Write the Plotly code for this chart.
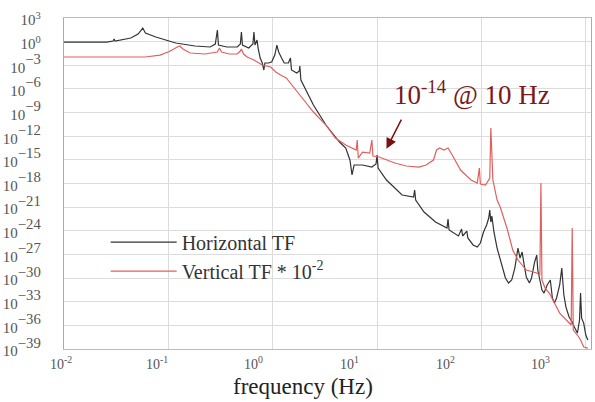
import numpy as np
import plotly.graph_objects as go

# ---- data (log10 of frequency in Hz, log10 of transfer function) ----
h_log_f = [-2.00, -1.59, -1.53, -1.52, -1.51, -1.36, -1.29, -1.245, -1.22, -1.12, -0.93, -0.745,
           -0.60, -0.55, -0.53, -0.52, -0.44, -0.34, -0.31, -0.30, -0.29, -0.23, -0.19, -0.18,
           -0.17, -0.15, -0.14, -0.12, -0.10, -0.085, -0.075, -0.04, -0.01, 0.02, 0.04, 0.057,
           0.085, 0.11, 0.15, 0.17, 0.18, 0.23, 0.255, 0.26, 0.27, 0.39, 0.51, 0.64, 0.70, 0.74,
           0.76, 0.78, 0.86, 0.95, 0.99, 1.00, 1.01, 1.09, 1.24, 1.35, 1.36, 1.37, 1.45, 1.56,
           1.67, 1.68, 1.69, 1.78, 1.81, 1.82, 1.86, 1.87, 1.92, 1.96, 1.99, 2.02, 2.05, 2.07,
           2.08, 2.09, 2.10, 2.12, 2.15, 2.18, 2.23, 2.26, 2.29, 2.32, 2.34, 2.35, 2.37, 2.39,
           2.41, 2.43, 2.46, 2.48, 2.51, 2.53, 2.54, 2.56, 2.58, 2.60, 2.63, 2.66, 2.68, 2.70,
           2.72, 2.75, 2.77, 2.79, 2.81, 2.84, 2.87, 2.89, 2.92, 2.94, 2.95, 2.96, 2.98, 3.00, 3.02]
h_log_tf = [-0.05, -0.05, 0.08, 0.34, 0.08, 0.46, 0.97, 1.73, 1.10, 0.59, -0.17, -0.55,
            -0.68, -0.30, 1.48, -0.43, -0.68, -0.68, -0.30, 1.22, -0.43, -0.81, -0.30, 1.22,
            -0.43, 0.21, -0.81, -2.08, -2.71, -3.60, -2.71, -2.71, -2.58, -1.70, -0.43, -1.31,
            -2.08, -2.71, -2.71, -2.08, -3.60, -3.98, -3.73, -3.09, -4.87, -8.04, -10.58, -12.74, -13.50, -15.02,
            -16.92, -15.65, -15.65, -15.91, -15.53, -14.39, -16.04, -17.56, -19.46, -19.72, -18.83, -20.10, -21.62, -22.89,
            -23.65, -22.51, -23.90, -24.66, -23.77, -24.66, -24.03, -24.91, -25.80, -26.06, -25.55, -24.15, -23.27, -22.38,
            -21.37, -22.89, -22.13, -24.15, -26.19, -27.71, -29.99, -30.63, -30.25, -28.73, -27.08, -26.19, -27.46, -26.70,
            -28.35, -29.87, -30.63, -29.99, -27.96, -27.08, -28.98, -30.50, -31.52, -31.90, -30.88, -30.25, -32.53, -33.17,
            -32.53, -30.88, -28.73, -32.15, -33.68, -34.94, -35.58, -36.21, -36.97, -35.33, -31.90, -35.08, -35.71, -37.23, -37.86]

v_log_f = [-2.00, -1.22, -1.08, -0.98, -0.915, -0.89, -0.86, -0.79, -0.65, -0.53, -0.51, -0.49,
           -0.415, -0.34, -0.31, -0.30, -0.28, -0.245, -0.18, -0.10, -0.02, 0.03, 0.075, 0.13,
           0.26, 0.39, 0.51, 0.60, 0.70, 0.76, 0.80, 0.81, 0.82, 0.86, 0.93, 0.95, 0.96, 1.02,
           1.09, 1.17, 1.28, 1.40, 1.47, 1.54, 1.57, 1.60, 1.64, 1.68, 1.72, 1.80, 1.90, 1.96,
           1.98, 1.99, 2.04, 2.08, 2.09, 2.11, 2.15, 2.18, 2.25, 2.30, 2.35, 2.43, 2.53, 2.56,
           2.57, 2.58, 2.61, 2.65, 2.75, 2.84, 2.86, 2.87, 2.88, 2.92, 2.95, 2.98, 3.02]
v_log_tf = [-1.95, -1.95, -1.70, -1.19, -0.68, -0.55, -0.93, -1.44, -1.57, -1.31, -0.81, -1.31,
            -1.57, -1.57, -1.19, -0.93, -1.57, -1.95, -2.33, -2.96, -3.22, -3.85, -4.23, -4.61,
            -6.77, -8.93, -10.58, -12.23, -13.12, -13.50, -13.75, -12.48, -14.77, -14.01, -14.13, -12.48, -14.52, -14.64,
            -15.02, -15.40, -15.78, -15.91, -15.65, -15.02, -13.75, -13.50, -13.75, -13.50, -14.39, -16.29, -17.56, -17.94,
            -16.04, -18.07, -18.19, -17.30, -10.96, -17.56, -20.10, -20.98, -23.90, -26.44, -27.71, -28.98, -29.36, -29.62,
            -17.94, -30.25, -31.27, -31.90, -34.44, -35.71, -35.96, -23.65, -36.59, -37.23, -37.86, -38.75, -38.88]

x_tick_exps = [-2, -1, 0, 1, 2, 3]
y_tick_exps = list(range(3, -40, -3))

SERIF = "Liberation Serif"


def y_label(e):
    if e >= 0:
        return f"<span style='font-size:15px'>10<sup>{e}</sup></span>"
    return f"<span style='font-size:15px'>10</span><sup>\u2212{abs(e)}</sup>"


fig = go.Figure()
fig.add_trace(go.Scatter(x=10 ** np.array(h_log_f), y=10 ** np.array(h_log_tf), mode="lines",
                         name="Horizontal TF", line=dict(color="#333333", width=1.2)))
fig.add_trace(go.Scatter(x=10 ** np.array(v_log_f), y=10 ** np.array(v_log_tf), mode="lines",
                         name="Vertical TF * 10<sup>-2</sup>", line=dict(color="#e06060", width=1.2)))

# x tick labels (offset from the grid as in the original figure)
for i, e in enumerate(x_tick_exps):
    fig.add_annotation(x=-0.005 + i * 0.182, y=0, xref="paper", yref="paper", yshift=-14,
                       xanchor="center", yanchor="middle",
                       text=f"10<sup>{e}</sup>", showarrow=False,
                       font=dict(family=SERIF, size=14, color="#555"))

# x axis title
fig.add_annotation(x=0.454, y=0, xref="paper", yref="paper", yshift=-37, xanchor="center",
                   yanchor="middle", text="frequency (Hz)", showarrow=False,
                   font=dict(family=SERIF, size=23, color="#222"))

fig.add_annotation(x=1.09, y=-13.6, ax=1.24, ay=-9.7, xref="x", yref="y", axref="x", ayref="y",
                   text="", showarrow=True, arrowhead=2, arrowsize=1.4, arrowwidth=1.5,
                   arrowcolor="#7a1010")
fig.add_annotation(x=0.622, y=0.772, xref="paper", yref="paper", xanchor="left", yanchor="middle",
                   text="10<sup>-14</sup> @ 10 Hz", showarrow=False,
                   font=dict(family=SERIF, size=27, color="#7a1a1a"))

fig.update_xaxes(type="log", range=[-2, 3.05], showgrid=True, gridcolor="#dcdcdc", gridwidth=1,
                 dtick=1, showticklabels=False, showline=True, linecolor="#bbbbbb", mirror=True,
                 zeroline=False)
fig.update_yaxes(type="log", range=[-39, 3], tickvals=[10.0 ** e for e in y_tick_exps],
                 ticktext=[y_label(e) for e in y_tick_exps],
                 tickfont=dict(family=SERIF, size=21, color="#555"),
                 showgrid=True, gridcolor="#dcdcdc", gridwidth=1, showline=True,
                 linecolor="#aaaaaa", mirror=True, zeroline=False, ticklabelstandoff=18)

fig.update_layout(
    width=595, height=402, autosize=False,
    margin=dict(l=57, r=3, t=18, b=53),
    paper_bgcolor="white", plot_bgcolor="white",
    showlegend=True,
    legend=dict(x=0.079, y=0.382, xanchor="left", yanchor="top", bgcolor="rgba(0,0,0,0)",
                font=dict(family=SERIF, size=20, color="#333"), itemwidth=66,
                tracegroupgap=0),
)

fig.write_html("out.html")
